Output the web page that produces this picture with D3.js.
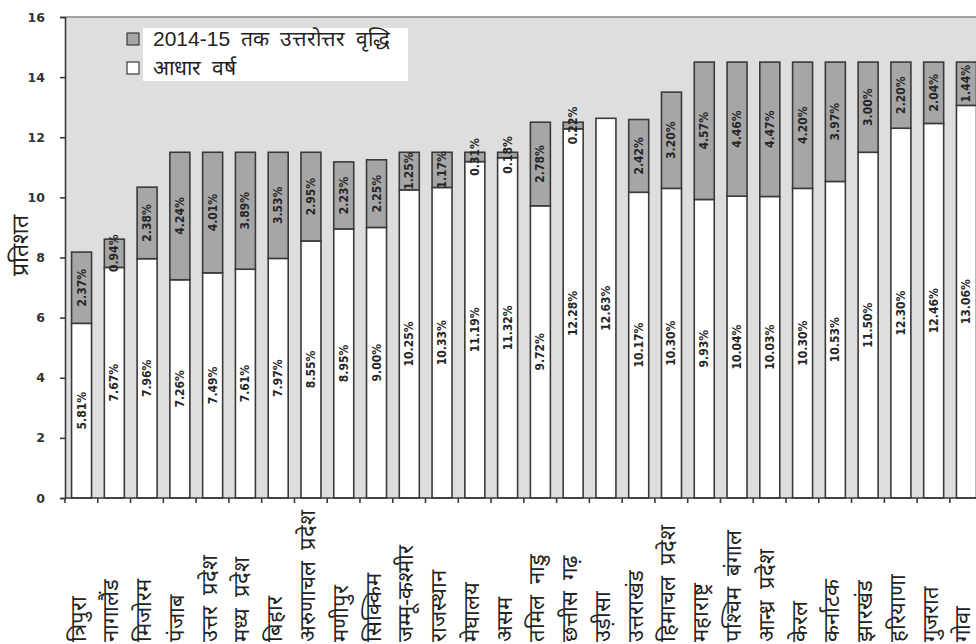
<!DOCTYPE html>
<html><head><meta charset="utf-8">
<script src="https://cdn.jsdelivr.net/npm/d3@7"></script>
<style>
html,body{margin:0;padding:0;background:#fff;}
svg{display:block;}
</style>
</head><body>
<svg id="c" width="976" height="644"></svg>
<script>
const states = ["त्रिपुरा","नागालैंड","मिजोरम","पंजाब","उत्तर प्रदेश","मध्य प्रदेश","बिहार","अरुणाचल प्रदेश","मणीपुर","सिक्किम","जम्मू-कश्मीर","राजस्थान","मेघालय","असम","तमिल नाडु","छत्तीस गढ़","उड़ीसा","उत्तराखंड","हिमाचल प्रदेश","महाराष्ट्र","पश्चिम बंगाल","आन्ध्र प्रदेश","केरल","कर्नाटक","झारखंड","हरियाणा","गुजरात","गोवा"];
const baseYear = [5.81,7.67,7.96,7.26,7.49,7.61,7.97,8.55,8.95,9.00,10.25,10.33,11.19,11.32,9.72,12.28,12.63,10.17,10.30,9.93,10.04,10.03,10.30,10.53,11.50,12.30,12.46,13.06];
const growth = [2.37,0.94,2.38,4.24,4.01,3.89,3.53,2.95,2.23,2.25,1.25,1.17,0.31,0.18,2.78,0.22,0,2.42,3.20,4.57,4.46,4.47,4.20,3.97,3.00,2.20,2.04,1.44];
const yTicks = [0,2,4,6,8,10,12,14,16];
const seriesNames = ["2014-15 तक उत्तरोत्तर वृद्धि","आधार वर्ष"];
const yTitle = "प्रतिशत";

const svg = d3.select("#c");
const W = 976, H = 644;
const x = d3.scaleBand().domain(states).range([65, 983]).paddingInner(0.39).paddingOuter(0.2);
const y = d3.scaleLinear().domain([0,16]).range([498, 17]);

svg.append("rect").attr("x",65).attr("y",y(16)).attr("width",W-65).attr("height",y(0)-y(16)).attr("fill","#dedede");
svg.append("line").attr("x1",65).attr("x2",W).attr("y1",y(16)).attr("y2",y(16)).attr("stroke","#8a8a8a").attr("stroke-width",1.5);

const lblFont = "'Liberation Sans Narrow','Arial Narrow','DejaVu Sans Condensed',sans-serif";
const devFont = "'Liberation Sans',Arial,sans-serif";

const g = svg.append("g");
states.forEach((s,i)=>{
  const bx = x(s), bw = x.bandwidth();
  g.append("rect").attr("x",bx).attr("y",y(baseYear[i])).attr("width",bw).attr("height",y(0)-y(baseYear[i]))
   .attr("fill","#ffffff").attr("stroke","#3a3a3a").attr("stroke-width",1.6);
  if (growth[i] > 0) {
    g.append("rect").attr("x",bx).attr("y",y(baseYear[i]+growth[i])).attr("width",bw).attr("height",y(baseYear[i])-y(baseYear[i]+growth[i]))
     .attr("fill","#a6a6a6").attr("stroke","#3a3a3a").attr("stroke-width",1.6);
  }
});
states.forEach((s,i)=>{
  const cx = x(s) + x.bandwidth()/2;
  const c1 = y(baseYear[i]/2);
  g.append("text").attr("transform",`translate(${cx+4},${c1}) rotate(-90)`).attr("text-anchor","middle")
   .attr("font-family",lblFont).attr("font-weight","bold").attr("font-size",12).attr("fill","#262626")
   .text(baseYear[i].toFixed(2)+"%");
  if (growth[i] > 0) {
    const c2 = y(baseYear[i]+growth[i]/2);
    g.append("text").attr("transform",`translate(${cx+4},${c2}) rotate(-90)`).attr("text-anchor","middle")
     .attr("font-family",lblFont).attr("font-weight","bold").attr("font-size",12).attr("fill","#262626")
     .text(growth[i].toFixed(2)+"%");
  }
});

const yAxis = d3.axisLeft(y).tickValues(yTicks).tickSize(5).tickFormat(d3.format("d"));
const ya = svg.append("g").attr("transform","translate(65,0)").call(yAxis);
ya.select(".domain").attr("stroke","#3a3a3a").attr("stroke-width",1.6);
ya.selectAll(".tick line").attr("stroke","#3a3a3a").attr("stroke-width",1.6);
ya.selectAll(".tick text").attr("font-family","'DejaVu Sans',sans-serif").attr("font-weight","bold").attr("font-size",12.5).attr("fill","#333").attr("x",-20);

const xa = svg.append("g").attr("transform",`translate(0,${y(0)})`);
xa.append("line").attr("x1",65).attr("x2",W).attr("stroke","#3a3a3a").attr("stroke-width",1.6);
const step = x.step();
d3.range(states.length+1).forEach(k=>{
  const tx = 65 + k*step;
  xa.append("line").attr("x1",tx).attr("x2",tx).attr("y1",0).attr("y2",5).attr("stroke","#3a3a3a").attr("stroke-width",1.6);
});
states.forEach((s,i)=>{
  const cx = x(s) + x.bandwidth()/2;
  svg.append("text").attr("transform",`translate(${cx+4},642) rotate(-90)`).attr("text-anchor","start")
    .attr("font-family",devFont).attr("font-size",22).attr("word-spacing",5).attr("fill","#222").text(s);
});

svg.append("text").attr("transform",`translate(28,245) rotate(-90)`).attr("text-anchor","middle")
  .attr("font-family",devFont).attr("font-size",23).attr("fill","#222").text(yTitle);

svg.append("rect").attr("x",143).attr("y",28).attr("width",265).attr("height",53).attr("fill","#ffffff");
const lg = svg.append("g");
[["#a6a6a6",39],["#ffffff",68]].forEach((d,i)=>{
  lg.append("rect").attr("x",127).attr("y",d[1]-6).attr("width",12).attr("height",12).attr("fill",d[0]).attr("stroke","#3a3a3a").attr("stroke-width",1.2);
  lg.append("text").attr("x",153).attr("y",d[1]+7).attr("font-family",devFont).attr("font-size",21).attr("word-spacing",5).attr("fill","#222").text(seriesNames[i]);
});
</script>
</body></html>
